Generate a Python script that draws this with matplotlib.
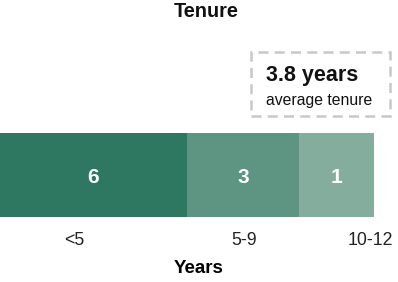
import matplotlib
matplotlib.use("Agg")
import matplotlib.pyplot as plt
from matplotlib.patches import Rectangle

plt.rcParams['font.family'] = ['Liberation Sans', 'DejaVu Sans']

# Data
categories = ["<5", "5-9", "10-12"]
counts = [6, 3, 1]
spans = [5, 3, 2]          # segment widths (years) as drawn
colors = ["#2e7862", "#5d9482", "#84ad9e"]
tick_labels = ["<5", "5-9", "10-12"]
avg_tenure = 3.8

fig = plt.figure(figsize=(3.98, 2.82), dpi=100)
W, H = 398, 282
ax = fig.add_axes([0, 1 - 217 / H, 1, 84 / H])

left = 0
for c, w, col in zip(counts, spans, colors):
    ax.barh(0, w, left=left, height=1, color=col, edgecolor='none')
    ax.text(left + w / 2, -0.03, str(c), ha='center', va='center', color='white',
            fontsize=15, fontweight='bold')
    left += w

ax.set_xlim(0, W / 37.4)
ax.set_ylim(-0.5, 0.5)
for s in ax.spines.values():
    s.set_visible(False)
ax.set_yticks([])
ax.set_xticks([1.99, 6.54, 9.9], tick_labels)
ax.tick_params(axis='x', length=0, labelsize=12.8, pad=11, colors='#222222')
ax.set_xlabel("Years", fontsize=13.5, fontweight='bold', labelpad=8)

fig.text(206 / W, 1 - 11.5 / H, "Tenure", ha='center', va='center',
         fontsize=14.3, fontweight='bold', color='#111111')

# Average tenure box
box = Rectangle((251 / W, 1 - 116 / H), (390 - 251) / W, (116 - 52) / H,
                transform=fig.transFigure, fill=False, edgecolor='#c8c8c8',
                linewidth=1.8, linestyle=(0, (4, 2.5)))
fig.add_artist(box)
fig.text(266 / W, 1 - 76 / H, f"{avg_tenure} years", ha='left', va='center',
         fontsize=15.5, fontweight='bold', color='#111111')
fig.text(266 / W, 1 - 100 / H, "average tenure", ha='left', va='center',
         fontsize=11.3, color='#111111')

fig.savefig("out.png", dpi=100)
